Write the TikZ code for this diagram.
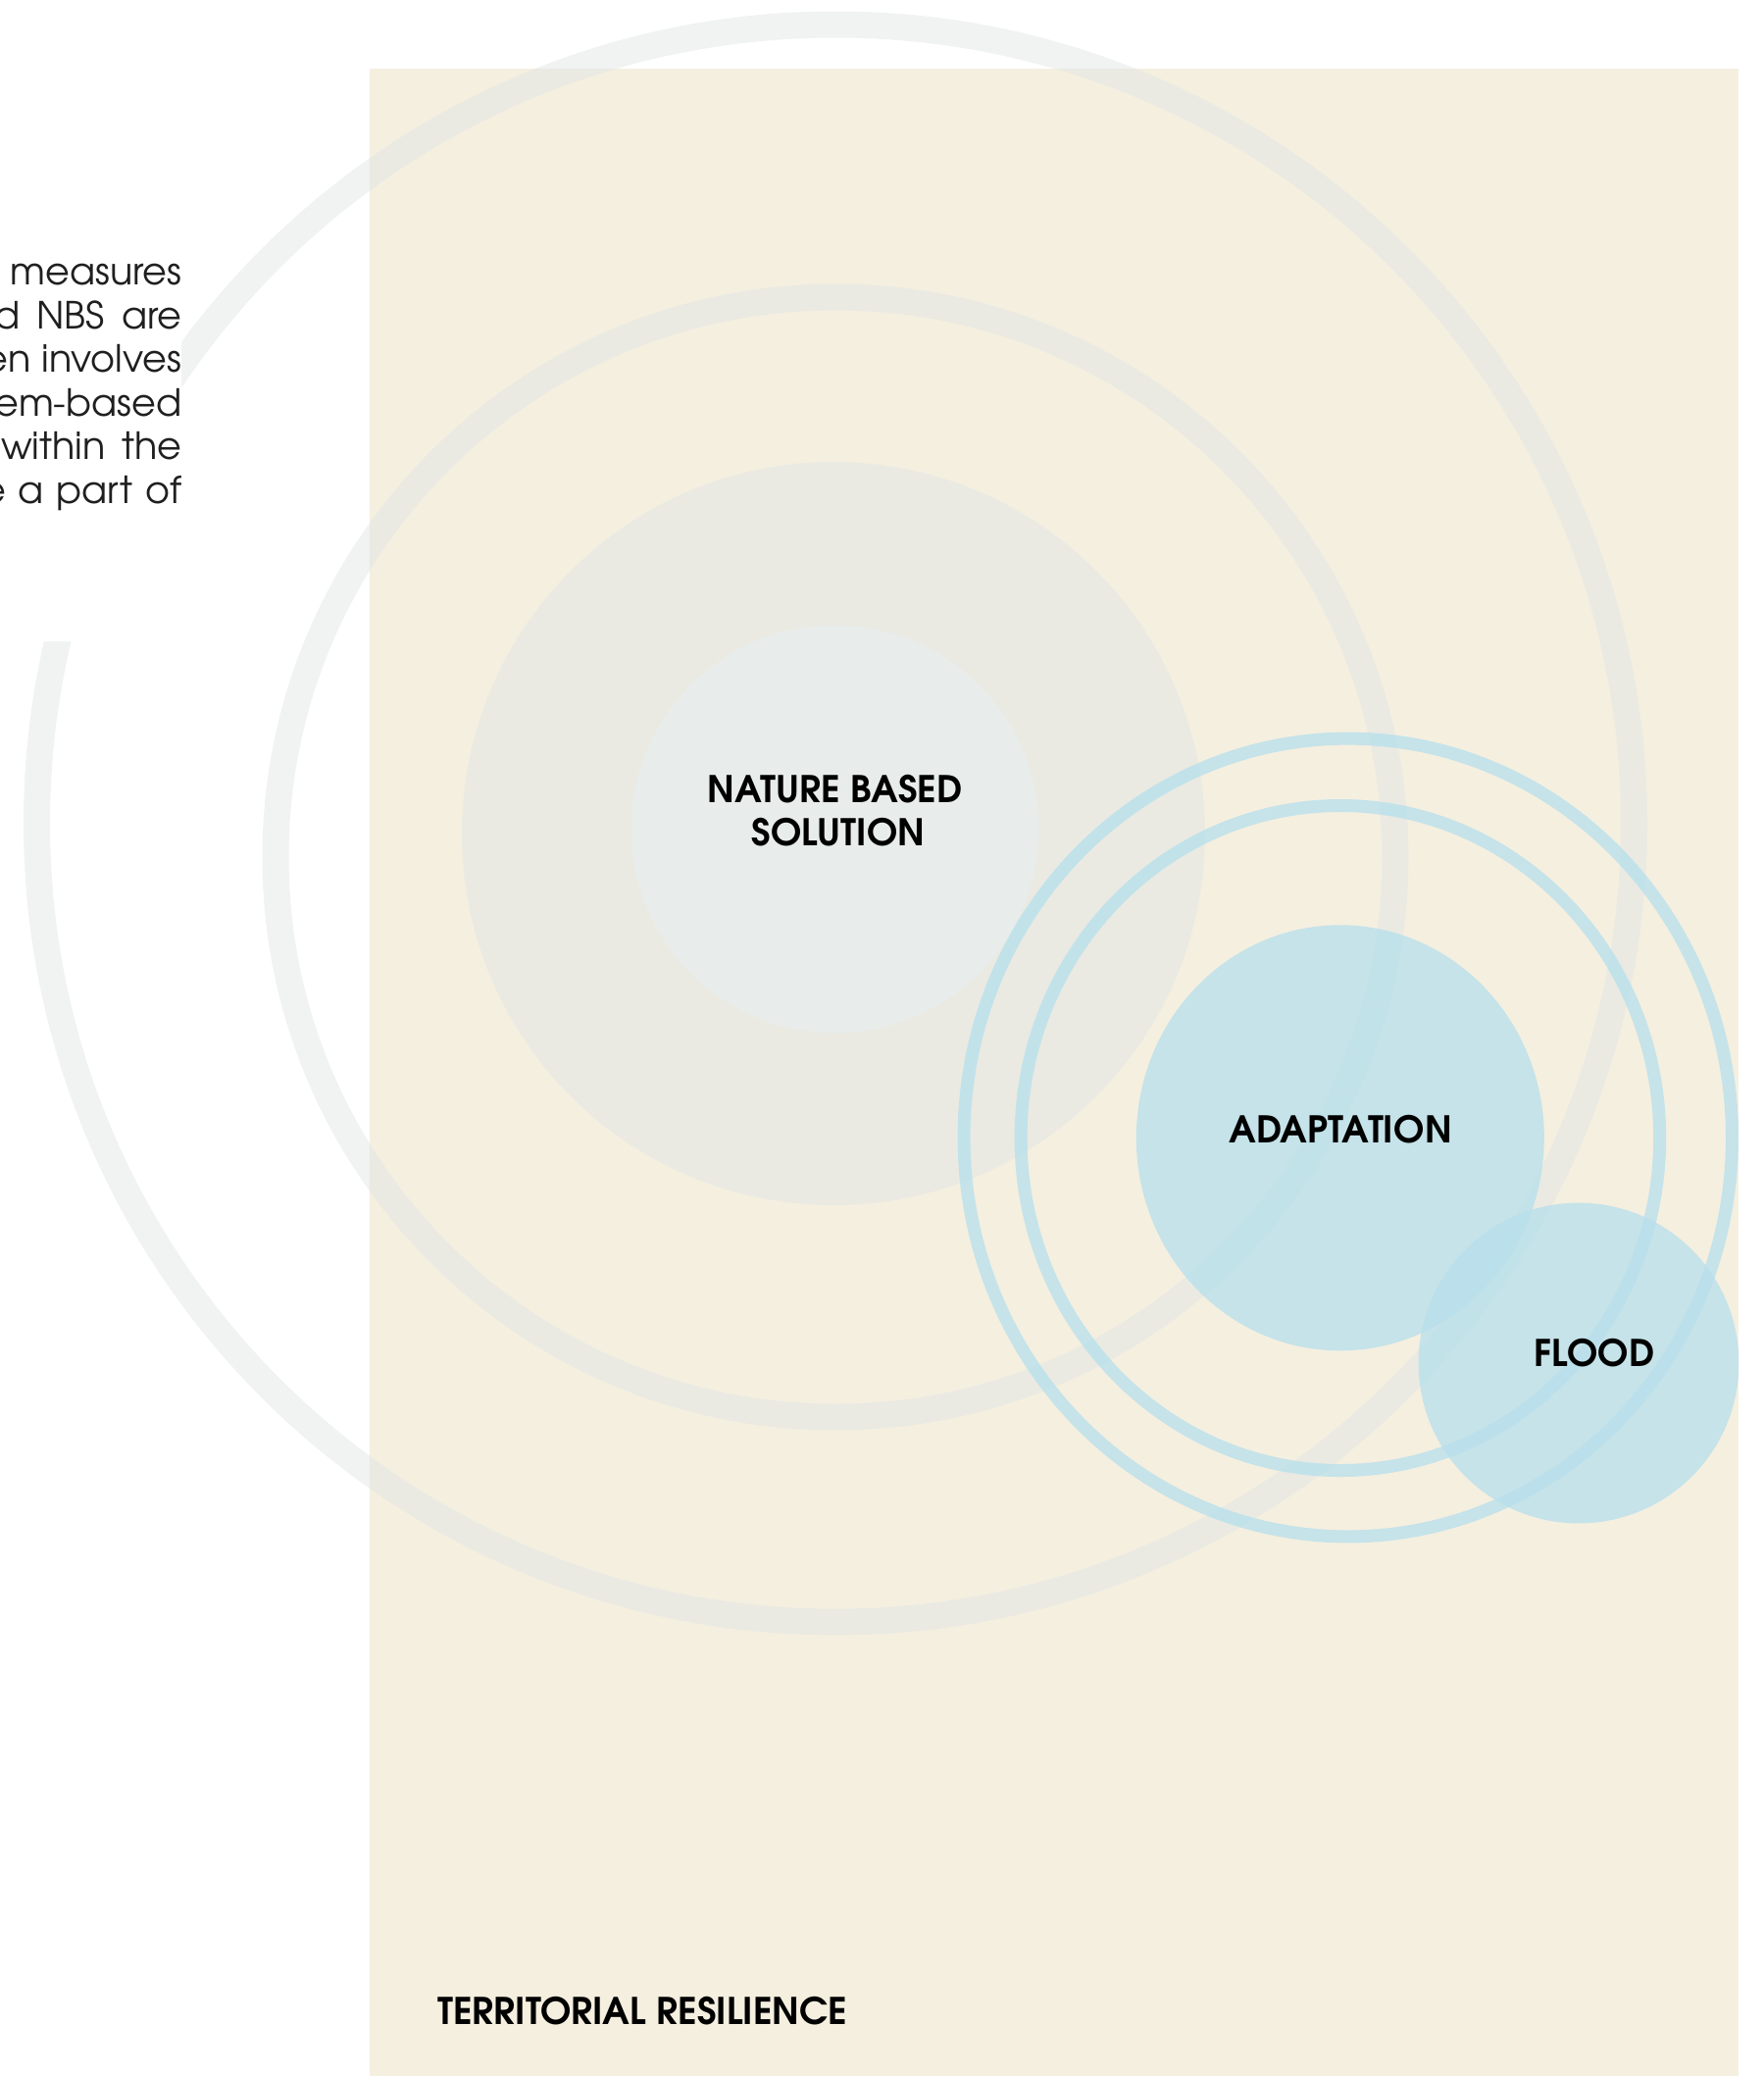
\documentclass[tikz,border=0pt]{standalone}
\usepackage{fontspec}
\newfontfamily\bodyfont{texgyreadventor-regular.otf}
\newfontfamily\labelfont{texgyreadventor-bold.otf}
\definecolor{paper}{RGB}{245,239,224}
\definecolor{mist}{RGB}{225,231,229}
\definecolor{core}{RGB}{232,237,235}
\definecolor{water}{RGB}{185,224,236}
\begin{document}
\begin{tikzpicture}[x=0.01cm,y=-0.01cm,
  ring/.style={draw=mist,line width=0.27cm,draw opacity=0.5},
  halo/.style={fill=mist,fill opacity=0.5},
  bluering/.style={draw=water,line width=0.13cm,draw opacity=0.8},
  bluedisc/.style={fill=water,fill opacity=0.8},
  lab/.style={font=\labelfont\fontsize{10.68}{12.8}\selectfont,text=black,inner sep=0pt,anchor=base},
  body/.style={font=\bodyfont\fontsize{10.85}{13}\selectfont,text=black!88,inner sep=0pt,anchor=base east}]
\useasboundingbox (0,0) rectangle (1799,2117);
\clip (0,0) rectangle (1799,2117);

% territory panel
\fill[paper] (377,70) rectangle (1773,2117);

% grey rings and discs of the nature based solution
\draw[ring] (852,839.5) circle[radius=814.5];
\draw[ring] (852,874) circle[radius=571];
\fill[halo] (850,850) circle[radius=379];
\fill[core] (851.5,845.5) circle[radius=208];

% text column on the left
\fill[white] (0,0) rectangle (185,654);
\node[body] (t1) at (186,290.5) {measures};
\node[body] (t2) at (186,335.1) {\hbox to 1.91cm{d\hfill NBS\hfill are}};
\node[body] (t3) at (186,379.7) {en involves};
\node[body] (t4) at (186,424.3) {em-based};
\node[body] (t5) at (186,468.9) {\hbox to 1.84cm{within\hfill the}};
\node[body] (t6) at (186,513.5) {\hbox to 2.04cm{e\hfill a\hfill part\hfill of}};

% adaptation and flood
\begin{scope}
\clip (0,0) rectangle (1773,2117);
\fill[bluedisc] (1366.8,1160.3) ellipse[x radius=208,y radius=217];
\fill[bluedisc] (1610,1390) circle[radius=163.4];
\draw[bluering] (1374.8,1160) ellipse[x radius=391.7,y radius=406.9];
\draw[bluering] (1366.9,1160.5) ellipse[x radius=325.8,y radius=339];
\end{scope}

% labels
\node[lab] (nbs1) at (851.5,818) {NATURE BASED};
\node[lab] (nbs2) at (855,862) {SOLUTION};
\node[lab] (adapt) at (1367,1165) {ADAPTATION};
\node[lab] (flood) at (1626,1393) {FLOOD};
\node[lab] (terr) at (655.5,2064) {TERRITORIAL RESILIENCE};
\end{tikzpicture}
\end{document}
